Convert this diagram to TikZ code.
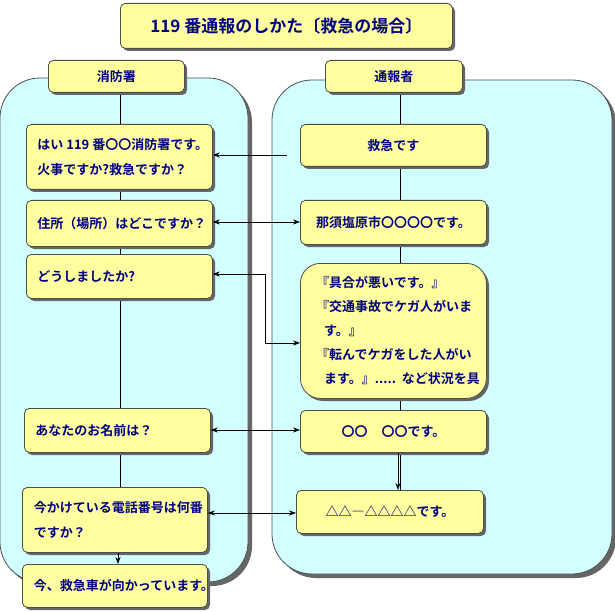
\documentclass[tikz,border=0pt]{standalone}
\usepackage{fontspec}
\newfontfamily\jp{Noto Sans CJK JP}[BoldFont={Noto Sans CJK JP Bold}]
\usetikzlibrary{arrows.meta}
\definecolor{boxy}{RGB}{255,255,160}
\definecolor{panel}{RGB}{210,255,255}
\definecolor{navy}{RGB}{0,0,128}
\tikzset{
  box/.style={draw=black!70,line width=0.8pt,fill=boxy,rounded corners=5pt,inner sep=0pt,anchor=north west,
    font=\jp\bfseries\fontsize{13pt}{25pt}\selectfont,text=navy},
  shd/.style={fill=black!60},
  pan/.style={draw=black!70,line width=0.8pt,fill=panel,rounded corners=40pt},
  arr/.style={-{Stealth[length=7pt,width=5pt]},line width=0.7pt},
  darr/.style={{Stealth[length=7pt,width=5pt]}-{Stealth[length=7pt,width=5pt]},line width=0.7pt}}
\newcommand{\mybx}[6]{%
 \fill[shd,rounded corners=5pt] ({#2+3},{#3+3}) rectangle ({#4+3},{#5+3});
 \node[box,minimum width={#4-#2},minimum height={#5-#3}] (#1) at (#2,#3) {#6};}
\begin{document}
\begin{tikzpicture}[x=1pt,y=-1pt]
\useasboundingbox (0,0) rectangle (615,612);
\fill[shd,rounded corners=40pt] (4,82) rectangle (252,586);
\draw[pan] (0,78) rectangle (248,582);
\fill[shd,rounded corners=40pt] (276,84) rectangle (616,578);
\draw[pan] (272,80) rectangle (612,574);
\draw[line width=0.7pt] (120,92) -- (120,555);
\draw[line width=0.7pt] (400,92) -- (400,490);
\mybx{t}{120}{3}{452}{48}{\fontsize{17pt}{20pt}\selectfont 119 番通報のしかた〔救急の場合〕}
\mybx{h1}{48}{60}{184}{92}{消防署}
\mybx{h2}{325}{60}{462}{92}{通報者}
\mybx{a1}{26}{124}{212}{189}{\begin{minipage}{180pt}\raggedright\hspace*{8pt}はい 119 番〇〇消防署です。\\\hspace*{8pt}火事ですか?救急ですか？\end{minipage}}
\mybx{a2}{26}{200}{212}{246}{\begin{minipage}{180pt}\hspace*{8pt}住所（場所）はどこですか？\end{minipage}}
\mybx{a3}{26}{254}{212}{298}{\begin{minipage}{180pt}\hspace*{8pt}どうしましたか?\end{minipage}}
\mybx{a4}{24}{408}{210}{452}{\begin{minipage}{180pt}\hspace*{8pt}あなたのお名前は？\end{minipage}}
\mybx{a5}{22}{487}{207}{552}{\begin{minipage}{178pt}\hspace*{8pt}今かけている電話番号は何番\\\hspace*{8pt}ですか？\end{minipage}}
\mybx{a6}{22}{564}{207}{607}{\begin{minipage}{178pt}\hspace*{8pt}今、救急車が向かっています。\end{minipage}}
\mybx{b1}{300}{124}{486}{166}{救急です}
\mybx{b2}{300}{200}{486}{244}{那須塩原市〇〇〇〇です。}
\fill[shd,rounded corners=20pt] (303,266) rectangle (489,401);
\node[box,rounded corners=20pt,minimum width=186pt,minimum height=135pt] (b3) at (300,263) {};
\node[anchor=north west,font=\jp\bfseries\fontsize{13pt}{24pt}\selectfont,text=navy,align=left,inner sep=0pt] at (316,276)
 {『具合が悪いです。』\\『交通事故でケガ人がいま\\\hspace*{8pt}す。』\\『転んでケガをした人がい\\\hspace*{8pt}ます。』.....\ \ など状況を具};
\mybx{b4}{300}{410}{486}{452}{〇〇\hspace{14pt}〇〇です。}
\mybx{b5}{296}{490}{483}{533}{△△―△△△△です。}
\coordinate (s1) at (287,155);
\draw[arr] (s1) -- (a1.east |- s1);
\draw[darr] (a2.east |- 0,222) -- (b2.west |- 0,222);
\draw[darr] (a3.east |- 0,274) -- (265,274) -- (265,343) -- (b3.west |- 0,343);
\draw[darr] (a4.east |- 0,430) -- (b4.west |- 0,430);
\draw[darr] (a5.east |- 0,513) -- (b5.west |- 0,513);
\draw[arr] (b4.south -| 398,0) -- (b5.north -| 398,0);
\draw[arr] (a5.south -| 118,0) -- (a6.north -| 118,0);
\end{tikzpicture}
\end{document}
